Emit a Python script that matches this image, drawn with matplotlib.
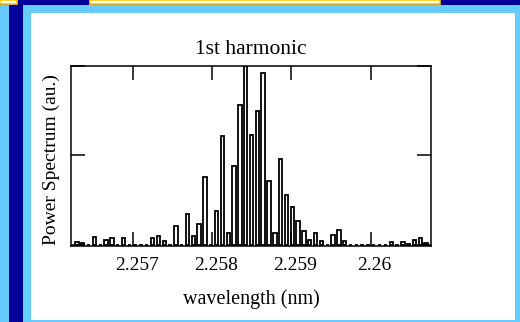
import matplotlib
matplotlib.use("Agg")
import matplotlib.pyplot as plt
from matplotlib.patches import Rectangle
from matplotlib.transforms import ScaledTranslation

# Spectrum bins (wavelength, nm) and relative power of the 1st harmonic
wavelength_nm = [
    2.2562950, 2.2563684, 2.2564418, 2.2565152, 2.2565886, 2.2566620, 2.2567354,
    2.2568088, 2.2568822, 2.2569556, 2.2570290, 2.2571024, 2.2571758, 2.2572492,
    2.2573226, 2.2573960, 2.2574694, 2.2575428, 2.2576162, 2.2576896, 2.2577630,
    2.2578364, 2.2579098, 2.2579832, 2.2580566, 2.2581300, 2.2582034, 2.2582768,
    2.2583502, 2.2584236, 2.2584970, 2.2585704, 2.2586438, 2.2587172, 2.2587906,
    2.2588640, 2.2589374, 2.2590108, 2.2590842, 2.2591576, 2.2592310, 2.2593044,
    2.2593778, 2.2594512, 2.2595246, 2.2595980, 2.2596714, 2.2597448, 2.2598182,
    2.2598916, 2.2599650, 2.2600384, 2.2601118, 2.2601852, 2.2602586, 2.2603320,
    2.2604054, 2.2604788, 2.2605522, 2.2606256, 2.2606990,
]
power = [
    0.015, 0.006, 0.0, 0.043, 0.0, 0.028, 0.037,
    0.0, 0.037, 0.0, 0.0, 0.0, 0.0, 0.037,
    0.046, 0.018, 0.0, 0.106, 0.0, 0.172, 0.046,
    0.116, 0.376, 0.0, 0.190, 0.609, 0.065, 0.441,
    0.782, 1.000, 0.615, 0.750, 0.963, 0.354, 0.067,
    0.480, 0.279, 0.212, 0.134, 0.074, 0.028, 0.065,
    0.018, 0.0, 0.056, 0.084, 0.018, 0.0, 0.0,
    0.0, 0.0, 0.0, 0.0, 0.0, 0.017, 0.0,
    0.017, 0.003, 0.024, 0.035, 0.009,
]
x_ticks = [2.257, 2.258, 2.259, 2.260]
x_tick_labels = ["2.257", "2.258", "2.259", "2.26"]

LIGHT_BLUE = "#66CCFF"
NAVY = "#000099"
GOLD = "#FFCC00"

W, H = 520, 322
fig = plt.figure(figsize=(W / 100, H / 100), dpi=100, facecolor=LIGHT_BLUE)


def px_rect(x0, y0, x1, y1, **kw):
    """Rectangle given in pixel units measured from the top-left corner."""
    r = Rectangle((x0 / W, 1 - y1 / H), (x1 - x0) / W, (y1 - y0) / H,
                  transform=fig.transFigure, zorder=-10, **kw)
    fig.patches.append(r)


# slide-style frame around the plot
px_rect(31, 13, 515, 320, facecolor="white", edgecolor="none")
px_rect(9, 0, 23, 322, facecolor=NAVY, edgecolor="none")
px_rect(0, 0, 520, 5, facecolor=NAVY, edgecolor="none")
px_rect(0, 0, 17, 4, facecolor="white", edgecolor=GOLD, linewidth=1.2)
px_rect(90, 0, 440, 4, facecolor="white", edgecolor=GOLD, linewidth=1.2)

ax = fig.add_axes([71 / W, 1 - 246 / H, 360 / W, 180 / H])
ax.set_facecolor("white")

ax.bar(wavelength_nm, power, width=4.3e-5, facecolor="white",
       edgecolor="black", linewidth=1.3, align="center")

ax.set_xlim(2.25622, 2.26076)
ax.set_ylim(-0.008, 1.0)
ax.set_xticks(x_ticks)
ax.set_xticklabels(x_tick_labels)
ax.set_yticks([0.0, 0.5, 1.0])
ax.set_yticklabels([])
ax.tick_params(direction="in", length=10, width=1.1, top=True, right=True,
               labelsize=14, pad=8, colors="black")
for s in ax.spines.values():
    s.set_linewidth(1.1)

serif = "Liberation Serif"
nudge = ScaledTranslation(4 / 100, 0, fig.dpi_scale_trans)
for lab in ax.get_xticklabels():
    lab.set_family(serif)
    lab.set_transform(lab.get_transform() + nudge)

ax.set_title("1st harmonic", family=serif, fontsize=15.5, pad=9)
ax.set_xlabel("wavelength (nm)", family=serif, fontsize=14.5, labelpad=11)
ax.set_ylabel("Power Spectrum (au.)", family=serif, fontsize=14)
ax.yaxis.set_label_coords((60 - 71) / 360, (246 - 160) / 180)

fig.savefig("out.png", dpi=100, facecolor=fig.get_facecolor())
